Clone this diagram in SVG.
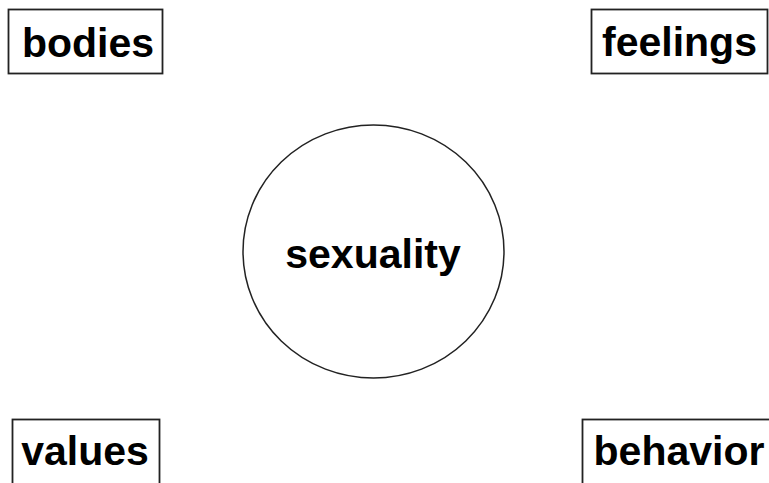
<svg xmlns="http://www.w3.org/2000/svg" width="769" height="483" viewBox="0 0 769 483">
<style>
.box{fill:#fff;stroke:#222;stroke-width:1.8}
.lbl{font-family:"Liberation Sans",Arial,sans-serif;font-weight:bold;font-size:41px;fill:#000;text-anchor:middle}
</style>
<rect width="769" height="483" fill="#fff"/>
<g id="connectors"></g>
<g id="bodies"><rect class="box" x="8.5" y="9.5" width="154" height="64"/><text class="lbl" x="88" y="57">bodies</text></g>
<g id="feelings"><rect class="box" x="591.5" y="9.5" width="176" height="64"/><text class="lbl" x="679.5" y="56">feelings</text></g>
<g id="values"><rect class="box" x="12.5" y="419.5" width="147" height="70"/><text class="lbl" x="85" y="465">values</text></g>
<g id="behavior"><rect class="box" x="582.5" y="419.5" width="200" height="70"/><text class="lbl" x="679" y="465">behavior</text></g>
<g id="sexuality"><ellipse cx="373.5" cy="251.5" rx="130.5" ry="126.5" fill="#fff" stroke="#222" stroke-width="1.5"/><text class="lbl" x="373" y="268">sexuality</text></g>
</svg>
